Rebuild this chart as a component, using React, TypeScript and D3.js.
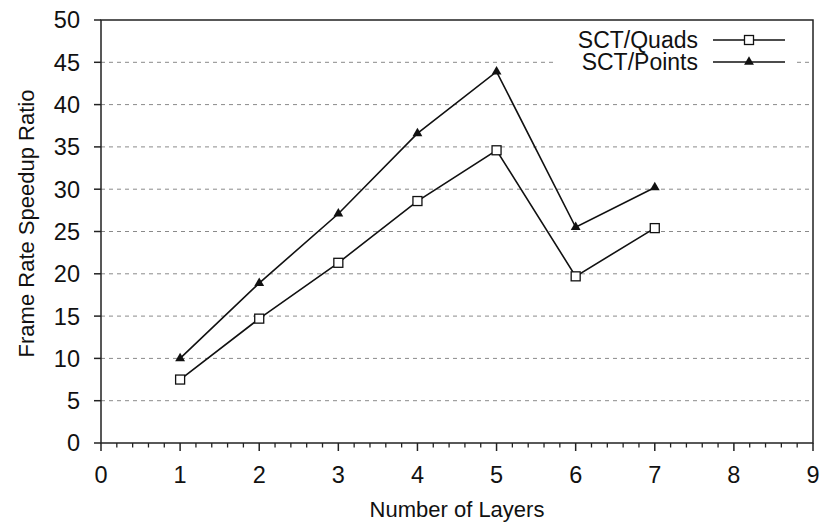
import React from "react";
import * as d3 from "d3";

// Speedup ratios per number of layers
const layers = [1, 2, 3, 4, 5, 6, 7];
const quadsSpeedup = [7.5, 14.7, 21.3, 28.6, 34.6, 19.7, 25.4];
const pointsSpeedup = [10.0, 18.9, 27.1, 36.6, 43.9, 25.5, 30.2];
const xTicks = [0, 1, 2, 3, 4, 5, 6, 7, 8, 9];
const yTicks = [0, 5, 10, 15, 20, 25, 30, 35, 40, 45, 50];
const seriesNames = ["SCT/Quads", "SCT/Points"];

const W = 820;
const H = 525;
const M = { left: 101, right: 7, top: 20, bottom: 82 };
const FONT = "'Liberation Sans', Arial, sans-serif";

export default function App() {
  const x = d3.scaleLinear().domain([0, 9]).range([M.left, W - M.right]);
  const y = d3.scaleLinear().domain([0, 50]).range([H - M.bottom, M.top]);
  const line = d3
    .line<number>()
    .x((_, i) => x(layers[i]))
    .y((d) => y(d));

  const minorTicks = d3.range(0, 9.0001, 0.2).filter(
    (v) => Math.abs(v - Math.round(v)) > 1e-6
  );

  const x0 = x(0);
  const x1 = x(9);
  const yb = y(0);
  const yt = y(50);

  const tri = d3.symbol().type(d3.symbolTriangle).size(42)();

  const square = (cx: number, cy: number, key: string) => (
    <rect
      key={key}
      x={cx - 4.5}
      y={cy - 4.5}
      width={9}
      height={9}
      fill="#fff"
      stroke="#111"
      strokeWidth={1.3}
    />
  );

  const legendX1 = 713;
  const legendX2 = 785;
  const legendMid = (legendX1 + legendX2) / 2;
  const legendY = [40, 62];

  return (
    <svg
      width={W}
      height={H}
      style={{ position: "absolute", left: 0, top: 0, background: "#fff" }}
      fontFamily={FONT}
    >
      {/* horizontal gridlines */}
      {yTicks
        .filter((t) => t > 0 && t < 50)
        .map((t) => (
          <line
            key={"g" + t}
            x1={x0}
            x2={x1}
            y1={y(t)}
            y2={y(t)}
            stroke="#8a8a8a"
            strokeWidth={1}
            strokeDasharray="4,4"
          />
        ))}

      {/* legend background */}
      <rect x={557} y={24} width={240} height={52} fill="#fff" />

      {/* frame */}
      <rect
        x={x0}
        y={yt}
        width={x1 - x0}
        height={yb - yt}
        fill="none"
        stroke="#222"
        strokeWidth={1.5}
      />

      {/* y axis ticks and labels */}
      {yTicks.map((t) => (
        <g key={"y" + t}>
          <line x1={x0 - 7} x2={x0} y1={y(t)} y2={y(t)} stroke="#222" strokeWidth={1.5} />
          <text
            x={x0 - 21}
            y={y(t)}
            dy="0.36em"
            textAnchor="end"
            fontSize={23.5}
            fill="#111"
          >
            {t}
          </text>
        </g>
      ))}

      {/* x axis ticks and labels */}
      {xTicks.map((t) => (
        <g key={"x" + t}>
          <line x1={x(t)} x2={x(t)} y1={yb} y2={yb + 8} stroke="#222" strokeWidth={1.5} />
          <text x={x(t)} y={yb + 40} textAnchor="middle" fontSize={23.5} fill="#111">
            {t}
          </text>
        </g>
      ))}
      {minorTicks.map((t) => (
        <line
          key={"m" + t.toFixed(1)}
          x1={x(t)}
          x2={x(t)}
          y1={yb}
          y2={yb + 4.5}
          stroke="#222"
          strokeWidth={1.3}
        />
      ))}

      {/* axis titles */}
      <text
        x={(x0 + x1) / 2}
        y={517}
        textAnchor="middle"
        fontSize={22}
        fill="#111"
      >
        Number of Layers
      </text>
      <text
        transform={`translate(34, ${(yt + yb) / 2 - 8}) rotate(-90)`}
        textAnchor="middle"
        fontSize={22}
        fill="#111"
      >
        Frame Rate Speedup Ratio
      </text>

      {/* series lines */}
      <path d={line(quadsSpeedup) ?? ""} fill="none" stroke="#111" strokeWidth={1.6} />
      <path d={line(pointsSpeedup) ?? ""} fill="none" stroke="#111" strokeWidth={1.6} />

      {/* markers */}
      {quadsSpeedup.map((v, i) => square(x(layers[i]), y(v), "q" + i))}
      {pointsSpeedup.map((v, i) => (
        <path
          key={"p" + i}
          d={tri ?? ""}
          transform={`translate(${x(layers[i])}, ${y(v)})`}
          fill="#111"
        />
      ))}

      {/* legend */}
      {seriesNames.map((name, i) => (
        <g key={"l" + i}>
          <text
            x={698}
            y={legendY[i]}
            dy="0.36em"
            textAnchor="end"
            fontSize={23}
            fill="#111"
          >
            {name}
          </text>
          <line
            x1={legendX1}
            x2={legendX2}
            y1={legendY[i]}
            y2={legendY[i]}
            stroke="#111"
            strokeWidth={1.6}
          />
          {i === 0 ? (
            square(legendMid, legendY[i], "lq")
          ) : (
            <path
              d={tri ?? ""}
              transform={`translate(${legendMid}, ${legendY[i]})`}
              fill="#111"
            />
          )}
        </g>
      ))}
    </svg>
  );
}
